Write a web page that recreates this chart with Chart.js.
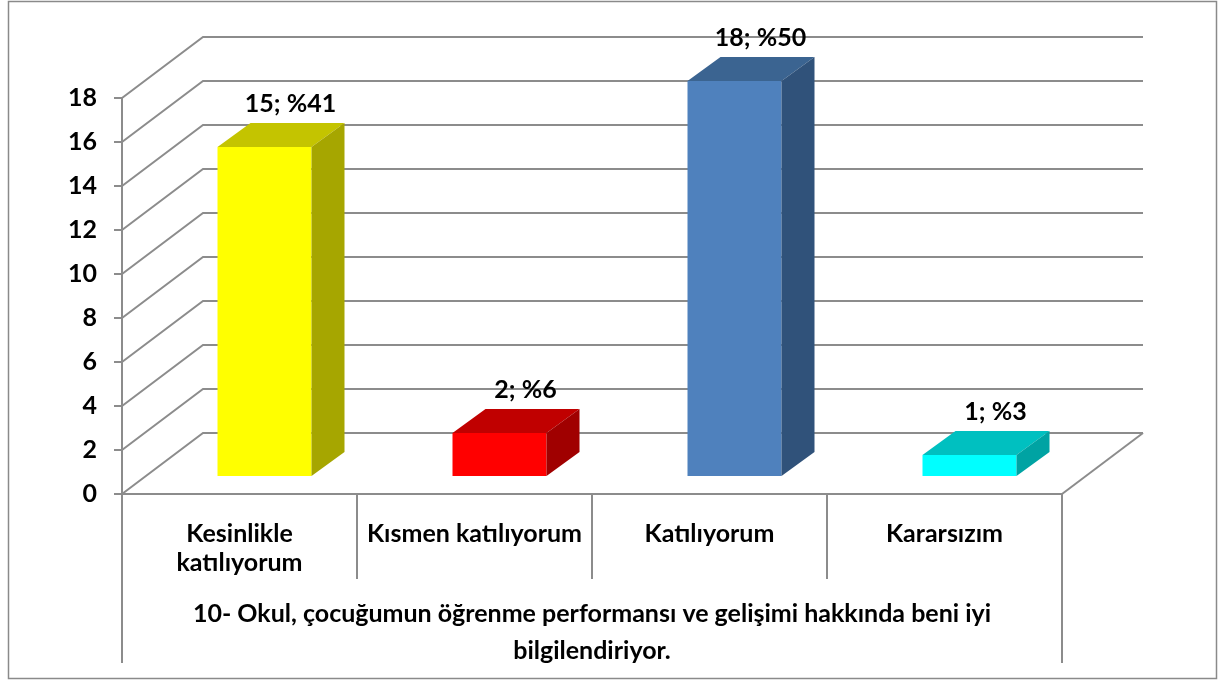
<!DOCTYPE html>
<html>
<head>
<meta charset="utf-8">
<script src="https://cdn.jsdelivr.net/npm/chart.js@4"></script>
<style>
  body { margin: 0; background: #fff; }
  canvas { display: block; }
</style>
</head>
<body>
<canvas id="chart" width="1219" height="681"></canvas>
<script>
const categories = [["Kesinlikle", "katılıyorum"], "Kısmen katılıyorum", "Katılıyorum", "Kararsızım"];
const counts = [15, 2, 18, 1];
const percents = [41, 6, 50, 3];
const axisTitle = ["10- Okul, çocuğumun öğrenme performansı ve gelişimi hakkında beni iyi", "bilgilendiriyor."];
const yMax = 18;
const yStep = 2;

const frontColors = ["#FFFF00", "#FF0000", "#4F81BD", "#00FFFF"];
const topColors = ["#C4C400", "#C00000", "#3B6491", "#00C0C0"];
const sideColors = ["#A6A600", "#A00000", "#30527A", "#00A3A3"];

const GRID = "#8c8c8c";
const FONT = "Lato";
const FSIZE = 25;

// 3d offsets (oblique projection like excel)
const WALL_DX = 81, WALL_DY = -61;
const BAR_DX = 25, BAR_DY = -17;
const DEPTH_DX = 33, DEPTH_DY = -24;

const threeD = {
  id: "threeD",
  beforeDatasetsDraw(chart) {
    const ctx = chart.ctx;
    const { left, right, bottom } = chart.chartArea;
    const y = chart.scales.y;
    const x = chart.scales.x;
    ctx.save();
    ctx.strokeStyle = GRID;
    ctx.lineWidth = 2;
    // side wall diagonals + back wall lines
    for (let v = 0; v <= yMax; v += yStep) {
      const py = y.getPixelForValue(v);
      ctx.beginPath();
      ctx.moveTo(left, py);
      ctx.lineTo(left + WALL_DX, py + WALL_DY);
      ctx.lineTo(right + WALL_DX, py + WALL_DY);
      ctx.stroke();
    }
    // floor right edge
    ctx.beginPath();
    ctx.moveTo(right, bottom);
    ctx.lineTo(right + WALL_DX, bottom + WALL_DY);
    ctx.stroke();
    // category separators
    for (let i = 1; i < categories.length; i++) {
      const px = (x.getPixelForValue(i - 1) + x.getPixelForValue(i)) / 2;
      ctx.beginPath();
      ctx.moveTo(px, bottom);
      ctx.lineTo(px, bottom + 85);
      ctx.stroke();
    }
    [left, right].forEach(px => {
      ctx.beginPath();
      ctx.moveTo(px, bottom);
      ctx.lineTo(px, bottom + 169);
      ctx.stroke();
    });
    ctx.restore();

    ctx.save();
    ctx.translate(BAR_DX, BAR_DY);
  },
  afterDatasetsDraw(chart) {
    const ctx = chart.ctx;
    const meta = chart.getDatasetMeta(0);
    meta.data.forEach((bar, i) => {
      const l = bar.x - bar.width / 2;
      const r = bar.x + bar.width / 2;
      // top face
      ctx.fillStyle = topColors[i];
      ctx.beginPath();
      ctx.moveTo(l, bar.y);
      ctx.lineTo(r, bar.y);
      ctx.lineTo(r + DEPTH_DX, bar.y + DEPTH_DY);
      ctx.lineTo(l + DEPTH_DX, bar.y + DEPTH_DY);
      ctx.closePath();
      ctx.fill();
      // side face
      ctx.fillStyle = sideColors[i];
      ctx.beginPath();
      ctx.moveTo(r, bar.y);
      ctx.lineTo(r, bar.base);
      ctx.lineTo(r + DEPTH_DX, bar.base + DEPTH_DY);
      ctx.lineTo(r + DEPTH_DX, bar.y + DEPTH_DY);
      ctx.closePath();
      ctx.fill();
      // value label
      ctx.fillStyle = "#000";
      ctx.font = "bold " + FSIZE + "px " + FONT;
      ctx.textAlign = "center";
      ctx.textBaseline = "middle";
      ctx.fillText(counts[i] + "; %" + percents[i], bar.x + 26, bar.y - 43);
    });
    ctx.restore();
  },
  afterDraw(chart) {
    const ctx = chart.ctx;
    ctx.save();
    ctx.strokeStyle = "#8a8a8a";
    ctx.lineWidth = 1.5;
    ctx.strokeRect(8.5, 1.5, 1208, 677);
    ctx.restore();
  }
};

new Chart(document.getElementById("chart"), {
  type: "bar",
  data: {
    labels: categories,
    datasets: [{
      data: counts,
      backgroundColor: frontColors,
      borderWidth: 0,
      barPercentage: 0.4,
      categoryPercentage: 1,
      clip: false
    }]
  },
  options: {
    responsive: false,
    animation: false,
    layout: { padding: { top: 98, left: 0, right: 157, bottom: 0 } },
    plugins: {
      legend: { display: false },
      tooltip: { enabled: false }
    },
    scales: {
      x: {
        grid: { display: false },
        border: { display: true, color: GRID, width: 2 },
        ticks: {
          color: "#000",
          font: { family: FONT, size: FSIZE, weight: "bold", lineHeight: 29 / FSIZE },
          padding: 17,
          maxRotation: 0,
          autoSkip: false
        },
        title: {
          display: true,
          text: axisTitle,
          color: "#000",
          font: { family: FONT, size: FSIZE, weight: "bold", lineHeight: 37 / FSIZE },
          padding: { top: 0, bottom: 12 }
        },
        afterFit(scale) { scale.height = 187; }
      },
      y: {
        min: 0,
        max: yMax,
        ticks: {
          stepSize: yStep,
          padding: 17,
          color: "#000",
          font: { family: FONT, size: FSIZE, weight: "bold" }
        },
        grid: { drawOnChartArea: false, drawTicks: true, tickLength: 8, color: GRID, lineWidth: 2 },
        border: { display: true, color: GRID, width: 2 },
        afterFit(scale) { scale.width = 122; }
      }
    }
  },
  plugins: [threeD]
});
</script>
</body>
</html>
